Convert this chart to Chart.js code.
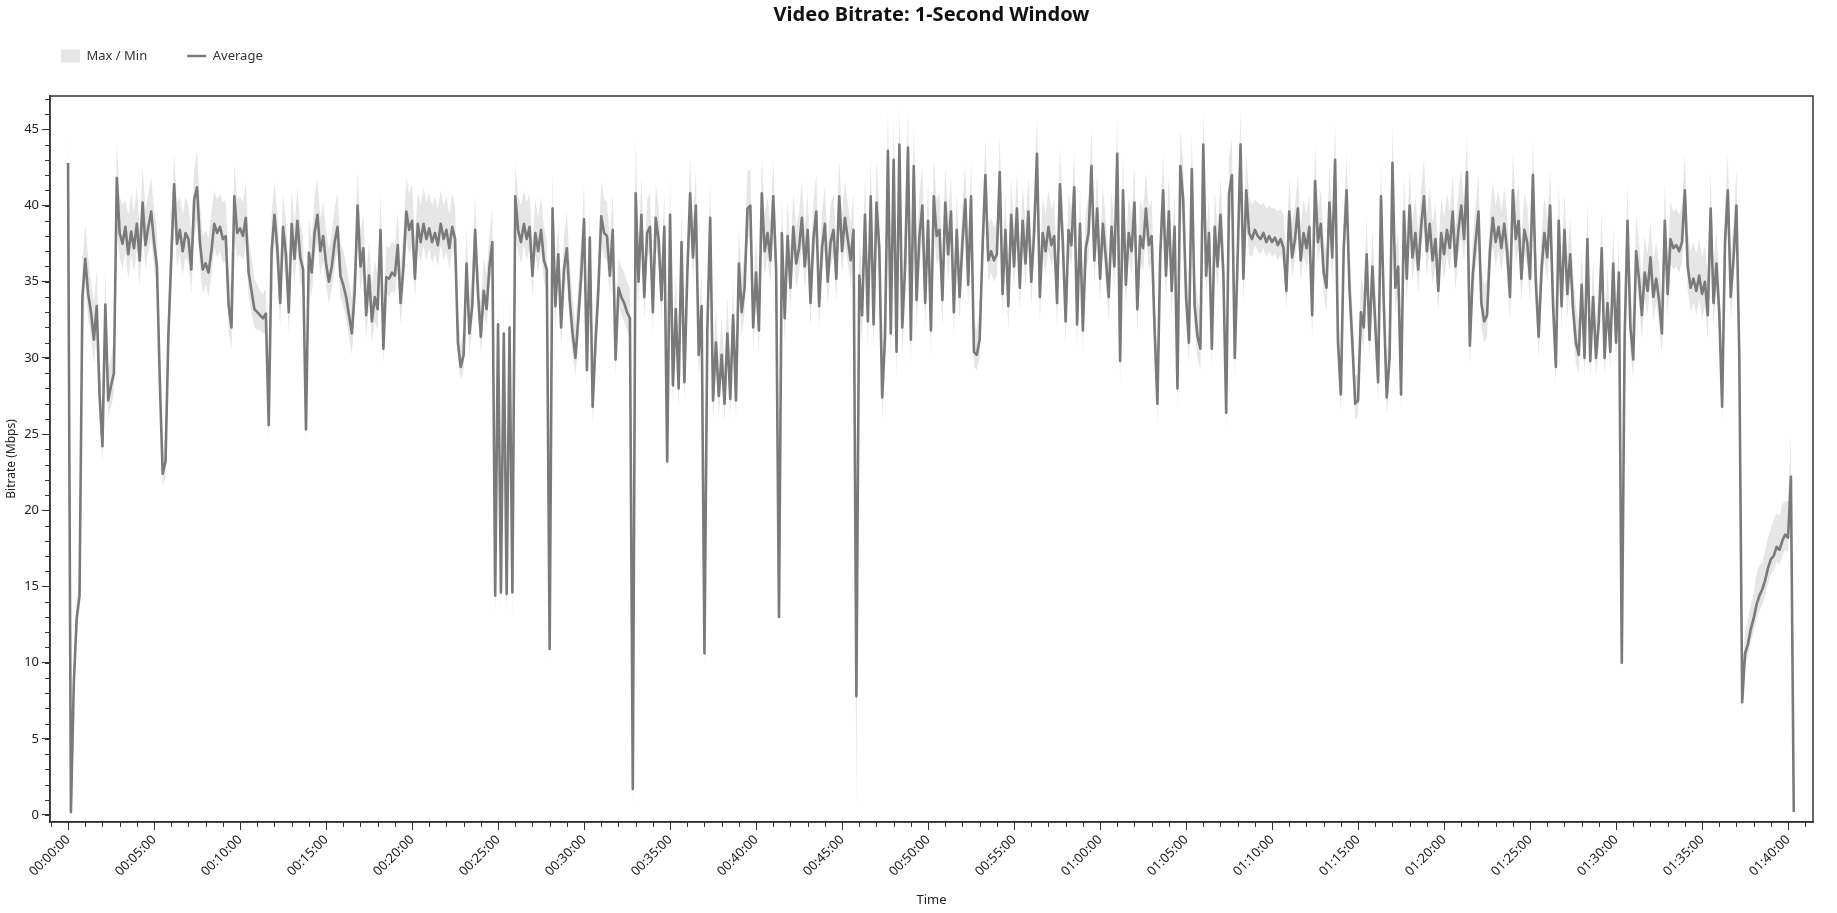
<!DOCTYPE html>
<html>
<head>
<meta charset="utf-8">
<title>Video Bitrate: 1-Second Window</title>
<script src="https://cdn.jsdelivr.net/npm/chart.js"></script>
<style>
  html, body { margin: 0; padding: 0; background: #fff; }
  #wrap { width: 1837px; height: 913px; position: relative; }
</style>
</head>
<body>
<div id="wrap"><canvas id="bitrateChart"></canvas></div>
<script>
// one sample every 10 seconds
const sampleSeconds = 10;

// average bitrate (Mbps), six samples per minute
const avgMbps = [
  42.8, 0.2, 8.6, 12.9, 14.4, 34.0,   // 00:00
  36.5, 34.2, 33.0, 31.2, 33.4, 27.5,
  24.2, 33.5, 27.2, 28.2, 29.0, 41.8,
  38.2, 37.5, 38.6, 36.8, 38.3, 37.2,
  38.8, 36.4, 40.2, 37.4, 38.6, 39.6,
  37.6, 36.0, 28.5, 22.4, 23.2, 31.5, // 00:05
  36.5, 41.4, 37.5, 38.4, 37.0, 38.2,
  37.8, 35.8, 40.4, 41.2, 37.6, 35.8,
  36.2, 35.6, 37.0, 38.8, 38.2, 38.6,
  37.8, 38.0, 33.5, 32.0, 40.6, 38.2,
  38.5, 38.0, 39.2, 35.6, 34.4, 33.2, // 00:10
  33.0, 32.8, 32.6, 32.9, 25.6, 37.0,
  39.4, 37.2, 33.6, 38.6, 36.8, 33.0,
  38.8, 36.5, 39.0, 36.6, 35.8, 25.3,
  36.9, 35.6, 38.2, 39.4, 37.0, 38.0,
  36.2, 35.0, 36.0, 37.6, 38.6, 35.4, // 00:15
  34.8, 34.0, 32.8, 31.6, 34.4, 40.0,
  36.0, 37.2, 32.8, 35.4, 32.4, 34.0,
  33.2, 38.4, 30.6, 35.3, 35.2, 35.6,
  35.4, 37.4, 33.6, 36.0, 39.6, 38.4,
  39.0, 35.2, 38.8, 37.6, 38.8, 37.8, // 00:20
  38.5, 37.6, 38.2, 37.4, 38.8, 37.8,
  38.4, 37.2, 38.6, 37.8, 31.0, 29.4,
  30.2, 36.2, 31.6, 33.4, 38.4, 34.2,
  31.4, 34.4, 33.2, 36.0, 37.6, 14.4,
  32.2, 14.6, 31.6, 14.5, 32.0, 14.6, // 00:25
  40.6, 38.4, 37.6, 38.8, 37.8, 38.6,
  35.4, 38.2, 37.0, 38.4, 36.4, 35.8,
  10.9, 39.8, 33.4, 36.8, 32.0, 35.8,
  37.2, 33.8, 31.6, 30.0, 32.6, 35.4,
  39.1, 29.2, 37.9, 26.8, 31.0, 34.5, // 00:30
  39.3, 38.2, 38.0, 35.4, 38.4, 29.9,
  34.6, 34.0, 33.6, 33.0, 32.6, 1.7,
  40.8, 35.0, 39.4, 34.0, 38.2, 38.6,
  33.0, 39.2, 37.8, 33.8, 38.6, 23.2,
  39.4, 28.2, 33.2, 28.0, 37.6, 28.4, // 00:35
  35.4, 40.8, 36.6, 40.0, 30.2, 33.4,
  10.6, 31.8, 39.2, 27.2, 31.0, 27.5,
  30.2, 27.0, 31.6, 27.3, 32.8, 27.2,
  36.2, 33.0, 34.6, 39.8, 40.0, 32.0,
  35.6, 31.8, 40.8, 37.0, 38.2, 36.4, // 00:40
  40.6, 35.8, 13.0, 38.2, 32.6, 38.0,
  34.6, 38.6, 36.2, 37.2, 39.2, 36.0,
  38.4, 33.6, 37.8, 39.6, 33.4, 37.2,
  38.8, 35.0, 37.6, 38.4, 35.2, 40.6,
  37.0, 39.2, 37.8, 36.4, 38.4, 7.8,  // 00:45
  35.4, 32.8, 39.4, 32.4, 40.6, 32.2,
  40.2, 37.2, 27.4, 31.4, 43.6, 31.6,
  43.0, 30.4, 44.0, 32.0, 36.0, 43.8,
  31.2, 42.6, 33.8, 38.0, 40.0, 33.6,
  39.0, 31.8, 40.6, 38.0, 38.4, 33.8, // 00:50
  40.2, 36.8, 39.6, 33.0, 38.4, 34.0,
  37.6, 40.4, 34.8, 40.6, 30.4, 30.2,
  31.2, 37.2, 42.0, 36.4, 37.0, 36.4,
  36.8, 42.2, 34.2, 38.4, 33.4, 39.4,
  36.0, 39.8, 34.6, 39.0, 36.2, 39.6, // 00:55
  35.0, 38.2, 43.4, 34.0, 38.2, 37.0,
  38.6, 37.4, 38.0, 33.6, 41.4, 37.6,
  32.4, 38.4, 37.4, 41.2, 32.2, 38.8,
  31.8, 37.2, 38.2, 42.6, 36.4, 39.8,
  35.2, 38.8, 36.6, 34.0, 38.6, 36.0, // 01:00
  43.4, 29.8, 41.0, 34.8, 38.2, 37.0,
  40.2, 33.2, 38.0, 37.2, 39.8, 37.4,
  38.0, 32.0, 27.0, 36.8, 41.0, 35.4,
  39.6, 34.4, 38.6, 28.0, 42.6, 40.4,
  34.0, 31.0, 42.4, 33.4, 31.4, 30.6, // 01:05
  44.0, 35.4, 38.2, 30.6, 38.6, 36.0,
  39.4, 35.6, 26.4, 40.8, 42.0, 30.0,
  36.6, 44.0, 35.2, 41.0, 38.2, 37.8,
  38.4, 38.0, 37.8, 38.2, 37.6, 38.0,
  37.6, 37.9, 37.4, 37.8, 37.2, 34.4, // 01:10
  39.6, 36.6, 37.8, 39.8, 36.4, 38.2,
  37.2, 38.6, 32.8, 41.6, 37.6, 38.8,
  35.6, 34.6, 40.2, 36.6, 43.0, 31.0,
  27.6, 37.2, 41.0, 34.6, 31.0, 27.0,
  27.2, 33.0, 32.0, 36.8, 31.2, 36.0, // 01:15
  32.2, 28.4, 40.6, 33.4, 27.4, 30.0,
  42.8, 34.6, 36.0, 27.6, 39.6, 35.2,
  40.0, 36.6, 38.2, 35.8, 38.6, 40.6,
  37.0, 38.8, 36.4, 37.8, 34.4, 38.2,
  36.8, 38.4, 37.2, 39.6, 36.0, 38.4, // 01:20
  40.0, 37.8, 42.2, 30.8, 35.4, 37.6,
  39.6, 33.6, 32.4, 32.8, 37.0, 39.2,
  37.6, 38.6, 37.2, 38.8, 37.0, 34.0,
  41.0, 37.8, 39.0, 35.2, 38.4, 37.6,
  35.2, 42.0, 35.0, 31.4, 35.8, 38.2, // 01:25
  36.6, 40.0, 33.6, 29.4, 39.0, 33.4,
  38.4, 34.2, 36.8, 33.2, 31.0, 30.2,
  34.8, 30.0, 37.8, 29.8, 34.0, 30.0,
  32.4, 37.2, 30.0, 33.6, 30.4, 36.2,
  31.0, 35.6, 10.0, 31.4, 39.0, 32.0, // 01:30
  29.9, 37.0, 35.2, 32.8, 35.6, 34.4,
  36.6, 34.0, 35.2, 33.8, 31.6, 39.0,
  34.2, 37.8, 37.2, 37.4, 37.0, 37.6,
  41.0, 36.0, 34.6, 35.2, 34.4, 35.4,
  34.2, 35.0, 32.8, 39.8, 33.6, 36.2, // 01:35
  33.0, 26.8, 37.6, 41.0, 34.0, 36.6,
  40.0, 30.0, 7.4, 10.6, 11.2, 12.2,
  12.9, 13.8, 14.4, 14.8, 15.4, 16.2,
  16.8, 17.0, 17.6, 17.4, 18.0, 18.4,
  18.2, 22.2, 0.2                      // 01:40
];

// highest 1-second value in each sample window
const maxMbps = [
  45.6, 1.6, 10.2, 14.0, 15.6, 36.4,
  38.8, 36.6, 35.0, 33.6, 35.8, 30.0,
  26.0, 35.8, 29.2, 30.0, 31.4, 44.2,
  40.6, 40.0, 40.4, 39.4, 40.8, 39.6,
  41.2, 38.6, 42.6, 39.8, 40.8, 41.8,
  39.8, 38.4, 31.0, 23.8, 25.0, 34.0,
  39.0, 43.4, 40.2, 40.6, 39.4, 40.6,
  40.0, 38.2, 42.4, 43.6, 40.2, 38.0,
  38.4, 37.8, 39.6, 41.0, 40.4, 40.8,
  40.2, 40.4, 36.0, 34.4, 42.8, 40.4,
  40.6, 40.2, 41.6, 37.8, 36.6, 35.2,
  34.8, 34.4, 34.2, 34.6, 27.4, 39.4,
  41.6, 39.6, 36.0, 40.8, 39.0, 35.6,
  41.0, 38.8, 41.2, 38.8, 38.0, 27.0,
  39.2, 37.8, 40.6, 41.8, 39.2, 40.2,
  38.4, 37.2, 38.2, 39.8, 40.8, 37.6,
  37.0, 36.2, 35.0, 34.0, 36.8, 42.2,
  38.4, 39.4, 35.2, 37.6, 34.8, 36.4,
  35.4, 40.8, 32.8, 37.4, 37.2, 37.6,
  37.4, 39.6, 36.0, 38.4, 41.8, 40.8,
  41.4, 37.6, 41.0, 40.0, 41.2, 40.2,
  40.8, 40.0, 40.6, 39.8, 41.0, 40.0,
  40.6, 39.4, 40.8, 40.0, 33.2, 30.8,
  32.0, 38.6, 33.8, 35.8, 40.6, 36.4,
  33.6, 36.6, 35.4, 38.2, 39.8, 16.0,
  34.4, 16.0, 33.8, 16.0, 34.2, 16.2,
  42.8, 40.6, 40.0, 41.0, 40.2, 40.8,
  37.6, 40.4, 39.2, 40.6, 38.6, 37.8,
  12.4, 42.2, 35.8, 39.0, 34.4, 38.0,
  39.6, 36.2, 34.0, 32.2, 35.0, 37.8,
  41.4, 31.6, 40.2, 29.0, 33.4, 36.8,
  41.6, 40.4, 40.2, 37.8, 40.8, 32.2,
  36.6, 36.0, 35.6, 35.0, 34.6, 4.0,
  44.6, 37.4, 41.8, 36.4, 40.4, 40.8,
  35.4, 41.4, 40.0, 36.2, 40.8, 25.0,
  41.8, 30.8, 35.6, 30.4, 40.0, 31.0,
  37.8, 43.2, 39.0, 42.4, 32.6, 35.8,
  12.2, 34.2, 41.6, 29.6, 33.4, 29.8,
  32.6, 29.4, 34.0, 29.6, 35.2, 29.4,
  38.6, 35.4, 37.0, 42.2, 42.4, 34.4,
  38.0, 34.2, 43.2, 39.4, 40.6, 38.8,
  43.0, 38.2, 14.6, 40.6, 35.0, 40.4,
  37.0, 40.8, 38.6, 39.6, 41.6, 38.4,
  40.8, 36.0, 40.2, 42.0, 35.8, 39.6,
  41.2, 37.4, 40.0, 40.8, 37.6, 43.0,
  39.4, 41.6, 40.2, 38.8, 40.8, 9.6,
  38.0, 35.4, 42.0, 35.0, 43.2, 34.8,
  43.0, 40.0, 30.2, 34.4, 46.2, 34.6,
  45.6, 33.4, 46.6, 35.0, 39.0, 46.4,
  34.2, 45.2, 36.6, 40.8, 42.6, 36.4,
  41.6, 34.6, 43.0, 40.4, 40.8, 36.2,
  42.6, 39.2, 42.0, 35.4, 40.8, 36.4,
  40.0, 42.8, 37.2, 43.0, 32.4, 31.8,
  33.4, 39.6, 44.4, 38.6, 39.2, 38.6,
  39.0, 44.6, 36.6, 40.8, 35.8, 41.8,
  38.4, 42.2, 37.0, 41.4, 38.6, 42.0,
  37.4, 40.6, 45.8, 36.4, 40.6, 39.4,
  41.0, 39.8, 40.4, 36.0, 43.8, 40.0,
  34.8, 40.8, 39.8, 43.6, 34.6, 41.2,
  34.2, 39.6, 40.6, 45.0, 38.8, 42.2,
  37.6, 41.2, 39.0, 36.4, 41.0, 38.4,
  45.8, 32.4, 43.4, 37.2, 40.6, 39.4,
  42.6, 35.6, 40.4, 39.6, 42.2, 39.8,
  40.4, 34.4, 29.2, 39.2, 43.4, 37.8,
  42.0, 36.8, 41.0, 30.4, 45.0, 42.8,
  36.4, 33.4, 44.8, 35.8, 33.8, 33.0,
  46.4, 37.8, 40.6, 33.0, 41.0, 38.4,
  41.8, 38.0, 28.6, 43.2, 44.4, 32.4,
  39.0, 46.4, 37.6, 43.4, 40.6, 40.0,
  40.4, 40.2, 40.0, 40.2, 39.8, 40.0,
  39.8, 39.8, 39.6, 39.8, 39.4, 36.8,
  41.8, 38.8, 40.0, 42.0, 38.6, 40.4,
  39.4, 40.8, 35.2, 44.0, 39.8, 41.0,
  37.8, 37.0, 42.6, 39.0, 45.4, 33.4,
  30.0, 39.6, 43.4, 37.0, 33.4, 28.8,
  29.0, 35.4, 34.4, 39.2, 33.6, 38.4,
  34.6, 30.8, 43.0, 35.8, 29.6, 32.4,
  45.2, 37.0, 38.4, 29.8, 42.0, 37.6,
  42.4, 39.0, 40.6, 38.2, 41.0, 43.0,
  39.4, 41.2, 38.8, 40.2, 36.8, 40.6,
  39.2, 40.8, 39.6, 42.0, 38.4, 40.8,
  42.4, 40.2, 44.6, 33.2, 37.8, 40.0,
  42.0, 36.0, 34.8, 35.2, 39.4, 41.6,
  40.0, 41.0, 39.6, 41.2, 39.4, 36.4,
  43.4, 40.2, 41.4, 37.6, 40.8, 40.0,
  37.6, 44.4, 37.4, 33.8, 38.2, 40.6,
  39.0, 42.4, 36.0, 31.6, 41.4, 35.8,
  40.8, 36.6, 39.2, 35.6, 33.4, 32.4,
  37.2, 32.4, 40.2, 32.0, 36.4, 32.2,
  34.8, 39.6, 32.2, 36.0, 32.6, 38.6,
  33.4, 38.0, 11.6, 33.8, 41.4, 34.4,
  32.2, 39.4, 37.6, 35.2, 38.0, 36.8,
  39.0, 36.4, 37.6, 36.2, 34.0, 41.4,
  36.6, 40.2, 39.6, 39.8, 39.4, 40.0,
  43.4, 38.4, 37.0, 37.6, 36.8, 37.8,
  36.6, 37.4, 35.2, 42.2, 36.0, 38.6,
  35.4, 29.0, 40.0, 43.4, 36.4, 39.0,
  42.4, 32.6, 9.0, 12.0, 12.8, 13.8,
  14.6, 15.8, 16.4, 16.6, 17.4, 18.2,
  18.8, 19.4, 19.8, 19.6, 20.4, 20.6,
  20.6, 25.0, 1.0
];

// lowest 1-second value in each sample window
const minMbps = [
  35.6, 0.0, 7.8, 12.0, 13.4, 30.0,
  35.0, 32.6, 31.4, 29.6, 31.6, 25.8,
  23.2, 30.6, 26.0, 26.8, 27.6, 38.4,
  36.6, 35.8, 37.0, 35.2, 36.8, 35.6,
  37.2, 34.6, 38.2, 35.8, 37.0, 37.8,
  36.0, 34.4, 26.8, 21.6, 22.2, 29.6,
  34.8, 38.8, 36.0, 36.8, 35.4, 36.6,
  36.2, 34.2, 38.0, 39.0, 36.0, 34.2,
  34.8, 34.0, 35.4, 37.2, 36.6, 37.0,
  36.2, 36.4, 31.8, 30.6, 38.0, 36.6,
  36.8, 36.4, 37.4, 34.0, 33.0, 32.0,
  31.8, 31.8, 31.6, 31.6, 24.6, 35.0,
  37.6, 35.6, 32.0, 36.8, 35.0, 31.6,
  37.0, 34.8, 37.2, 35.0, 34.2, 24.4,
  35.0, 34.0, 36.6, 37.6, 35.4, 36.4,
  34.8, 33.6, 34.6, 36.0, 37.0, 34.0,
  33.4, 32.6, 31.4, 30.2, 32.8, 37.6,
  34.4, 35.6, 31.2, 33.8, 31.0, 32.4,
  31.8, 36.4, 29.6, 34.2, 34.0, 34.4,
  34.2, 35.8, 32.2, 34.4, 37.8, 36.8,
  37.4, 33.8, 37.2, 36.2, 37.4, 36.4,
  37.2, 36.2, 36.8, 36.0, 37.4, 36.4,
  37.0, 35.8, 37.2, 36.2, 29.8, 28.6,
  29.2, 34.6, 30.2, 32.0, 36.6, 32.8,
  30.2, 33.0, 32.0, 34.6, 36.0, 13.0,
  31.0, 13.2, 30.6, 13.0, 30.8, 12.8,
  38.2, 37.0, 36.2, 37.4, 36.4, 37.2,
  34.0, 36.8, 35.6, 37.0, 35.0, 34.4,
  9.8, 37.0, 31.8, 35.2, 30.6, 34.2,
  35.6, 32.2, 30.2, 28.8, 31.2, 33.8,
  37.2, 28.0, 36.0, 25.6, 29.6, 33.0,
  37.6, 36.6, 36.4, 34.0, 36.6, 28.8,
  33.4, 32.8, 32.4, 31.8, 31.4, 0.0,
  37.0, 33.4, 37.6, 32.4, 36.6, 37.0,
  31.6, 37.4, 36.2, 32.2, 36.8, 22.4,
  37.4, 26.8, 31.6, 26.6, 35.8, 27.0,
  33.8, 38.8, 35.0, 38.0, 28.8, 31.8,
  9.6, 30.2, 37.2, 25.8, 29.6, 26.2,
  28.8, 25.8, 30.2, 26.0, 31.2, 25.8,
  34.4, 31.4, 33.0, 37.8, 38.0, 30.4,
  34.0, 30.2, 38.6, 35.4, 36.6, 34.8,
  38.6, 34.2, 12.0, 36.6, 31.0, 36.4,
  33.0, 37.0, 34.6, 35.6, 37.4, 34.4,
  36.8, 32.0, 36.2, 37.8, 31.8, 35.6,
  37.2, 33.4, 36.0, 36.8, 33.6, 38.6,
  35.4, 37.4, 36.2, 34.8, 36.8, 0.3,
  33.6, 31.0, 37.4, 30.6, 38.4, 30.4,
  38.0, 35.2, 25.8, 29.6, 41.0, 29.8,
  40.6, 28.6, 41.4, 30.0, 33.8, 41.2,
  29.4, 40.2, 31.8, 36.0, 37.8, 31.8,
  37.0, 30.0, 38.4, 36.2, 36.6, 32.0,
  38.2, 35.0, 37.6, 31.4, 36.6, 32.4,
  35.8, 38.4, 33.2, 38.6, 29.4, 29.2,
  30.0, 35.6, 39.6, 35.0, 35.6, 35.0,
  35.4, 39.8, 32.6, 36.8, 31.8, 37.6,
  34.4, 37.8, 33.0, 37.2, 34.6, 37.8,
  33.4, 36.6, 41.0, 32.4, 36.6, 35.6,
  37.0, 36.0, 36.6, 32.0, 39.2, 36.2,
  30.8, 36.8, 36.0, 39.0, 30.6, 37.2,
  30.2, 35.6, 36.6, 40.2, 34.8, 38.0,
  33.6, 37.2, 35.0, 32.4, 37.0, 34.4,
  41.0, 28.2, 38.8, 33.2, 36.6, 35.4,
  38.2, 31.6, 36.4, 35.6, 38.0, 35.8,
  36.4, 30.4, 25.6, 35.2, 38.8, 33.8,
  37.8, 32.8, 37.0, 26.6, 40.2, 38.4,
  32.4, 29.6, 40.0, 31.8, 30.0, 29.2,
  41.6, 33.8, 36.6, 29.2, 37.0, 34.4,
  37.6, 34.0, 25.2, 38.6, 39.8, 28.6,
  35.0, 41.6, 33.6, 38.8, 36.8, 36.6,
  37.4, 37.0, 36.8, 37.2, 36.6, 37.0,
  36.6, 36.8, 36.4, 36.8, 36.2, 33.2,
  38.0, 35.2, 36.6, 38.2, 35.0, 36.8,
  35.8, 37.2, 31.2, 39.4, 36.2, 37.4,
  34.2, 33.0, 38.2, 35.0, 40.6, 29.6,
  26.4, 35.6, 38.8, 33.0, 29.6, 26.0,
  26.2, 31.4, 30.6, 35.2, 29.8, 34.4,
  30.8, 27.0, 38.4, 31.8, 26.2, 28.6,
  40.4, 33.0, 34.4, 26.4, 37.6, 33.6,
  38.0, 35.0, 36.6, 34.2, 37.0, 38.6,
  35.4, 37.2, 34.8, 36.2, 33.0, 36.6,
  35.2, 36.8, 35.6, 37.8, 34.4, 36.8,
  38.0, 36.2, 39.8, 29.4, 33.8, 36.0,
  37.8, 32.0, 31.0, 31.4, 35.4, 37.4,
  36.0, 37.0, 35.6, 37.2, 35.4, 32.4,
  38.8, 36.2, 37.2, 33.6, 36.8, 36.0,
  33.6, 39.6, 33.4, 30.0, 34.2, 36.6,
  35.0, 38.0, 32.0, 28.2, 37.0, 31.8,
  36.8, 32.6, 35.2, 31.6, 29.6, 29.0,
  33.2, 28.8, 36.0, 28.6, 32.4, 28.8,
  30.8, 35.6, 28.8, 32.0, 29.2, 34.6,
  29.6, 34.0, 9.2, 29.8, 37.0, 30.4,
  28.6, 35.4, 33.6, 31.2, 34.0, 32.8,
  35.0, 32.4, 33.6, 32.2, 30.2, 37.0,
  32.6, 36.2, 35.8, 36.0, 35.6, 36.2,
  38.8, 34.4, 33.0, 33.6, 32.8, 33.8,
  32.6, 33.4, 31.2, 37.6, 32.0, 34.6,
  31.4, 25.8, 35.8, 38.8, 32.4, 35.0,
  38.0, 28.4, 6.6, 9.8, 10.4, 11.4,
  12.0, 12.8, 13.4, 13.8, 14.4, 15.2,
  15.8, 16.0, 16.6, 16.4, 17.0, 17.4,
  17.2, 20.8, 0.0
];

// axis ranges (seconds / Mbps) and tick spacing
const timeRange = [-63, 6087];
const bitrateRange = [-0.46, 47.19];
const majorTimeStep = 300, minorTimeStep = 60;
const majorRateStep = 5, minorRateStep = 1;

const toPoints = values => values.map((v, i) => ({ x: i * sampleSeconds, y: v }));

function formatClock(sec) {
    const h = Math.floor(sec / 3600);
    const m = Math.floor((sec % 3600) / 60);
    const s = sec % 60;
    return [h, m, s].map(n => String(n).padStart(2, '0')).join(':');
}

const FONT = '"Segoe UI", "Noto Sans", sans-serif';
Chart.defaults.font.family = FONT;
Chart.defaults.color = '#222';

// frame around the plot, minor ticks, and placement of title / legend
const framePlugin = {
    id: 'framePlugin',
    afterLayout(chart) {
        const area = chart.chartArea;
        const t = chart.titleBlock;
        const h = t.bottom - t.top;
        t.left = area.left; t.right = area.right;
        t.top = 0; t.bottom = h;
        const lg = chart.legend;
        const lh = lg.bottom - lg.top;
        lg.left = 21; lg.top = 9.5; lg.bottom = 9.5 + lh;
    },
    afterDraw(chart) {
        const { ctx, chartArea: a, scales: { x, y } } = chart;
        ctx.save();
        ctx.strokeStyle = '#333';
        ctx.lineWidth = 1;
        ctx.beginPath();
        for (let s = Math.ceil(x.min / minorTimeStep) * minorTimeStep; s <= x.max; s += minorTimeStep) {
            const px = Math.round(x.getPixelForValue(s)) + 0.5;
            ctx.moveTo(px, a.bottom);
            ctx.lineTo(px, a.bottom + 5);
        }
        for (let v = Math.ceil(y.min / minorRateStep) * minorRateStep; v <= y.max; v += minorRateStep) {
            const py = Math.round(y.getPixelForValue(v)) + 0.5;
            ctx.moveTo(a.left - 5, py);
            ctx.lineTo(a.left, py);
        }
        ctx.stroke();
        ctx.lineWidth = 1.5;
        ctx.strokeRect(a.left, a.top, a.right - a.left, a.bottom - a.top);
        ctx.restore();
    }
};

new Chart(document.getElementById('bitrateChart'), {
    type: 'line',
    data: {
        datasets: [
            {
                label: 'Max / Min',
                data: toPoints(maxMbps),
                borderColor: 'rgba(0,0,0,0)',
                borderWidth: 0,
                backgroundColor: '#e6e6e6',
                fill: '+1',
                pointRadius: 0,
                pointStyle: 'rect',
                order: 1
            },
            {
                label: '',
                data: toPoints(minMbps),
                borderColor: 'rgba(0,0,0,0)',
                borderWidth: 0,
                fill: false,
                pointRadius: 0,
                order: 2
            },
            {
                label: 'Average',
                data: toPoints(avgMbps),
                borderColor: '#7a7a7a',
                backgroundColor: '#7a7a7a',
                borderWidth: 2.6,
                borderJoinStyle: 'round',
                fill: false,
                pointRadius: 0,
                pointStyle: 'line',
                order: 0
            }
        ]
    },
    options: {
        responsive: true,
        maintainAspectRatio: false,
        animation: false,
        events: [],
        layout: { padding: { top: 6, right: 24, bottom: 0, left: 0 } },
        plugins: {
            title: {
                display: true,
                text: 'Video Bitrate: 1-Second Window',
                color: '#111',
                font: { size: 20, weight: 'bold' },
                padding: { top: 3, bottom: 0 }
            },
            legend: {
                display: true,
                position: 'top',
                align: 'start',
                labels: {
                    usePointStyle: true,
                    pointStyleWidth: 19,
                    padding: 40,
                    color: '#333',
                    font: { size: 13 },
                    filter: item => item.text !== '',
                    sort: (a, b) => a.datasetIndex - b.datasetIndex
                }
            },
            tooltip: { enabled: false }
        },
        scales: {
            x: {
                type: 'linear',
                min: timeRange[0],
                max: timeRange[1],
                afterFit: scale => { scale.height = 91; },
                grid: { drawOnChartArea: false, drawTicks: true, tickLength: 8, tickColor: '#333' },
                border: { color: '#333', width: 1.5 },
                ticks: {
                    stepSize: majorTimeStep,
                    includeBounds: false,
                    autoSkip: false,
                    minRotation: 45,
                    maxRotation: 45,
                    padding: 2,
                    font: { size: 13 },
                    color: '#222',
                    callback: v => formatClock(v)
                },
                title: { display: true, text: 'Time', font: { size: 13 }, color: '#222', padding: { top: 0, bottom: 5 } }
            },
            y: {
                type: 'linear',
                min: bitrateRange[0],
                max: bitrateRange[1],
                afterFit: scale => { scale.width = 50; },
                grid: { drawOnChartArea: false, drawTicks: true, tickLength: 8, tickColor: '#333' },
                border: { color: '#333', width: 1.5 },
                ticks: {
                    stepSize: majorRateStep,
                    includeBounds: false,
                    padding: 3,
                    font: { size: 13 },
                    color: '#222'
                },
                title: { display: true, text: 'Bitrate (Mbps)', font: { size: 12 }, color: '#222', padding: { top: 4, bottom: 0 } }
            }
        }
    },
    plugins: [framePlugin]
});
</script>
</body>
</html>
